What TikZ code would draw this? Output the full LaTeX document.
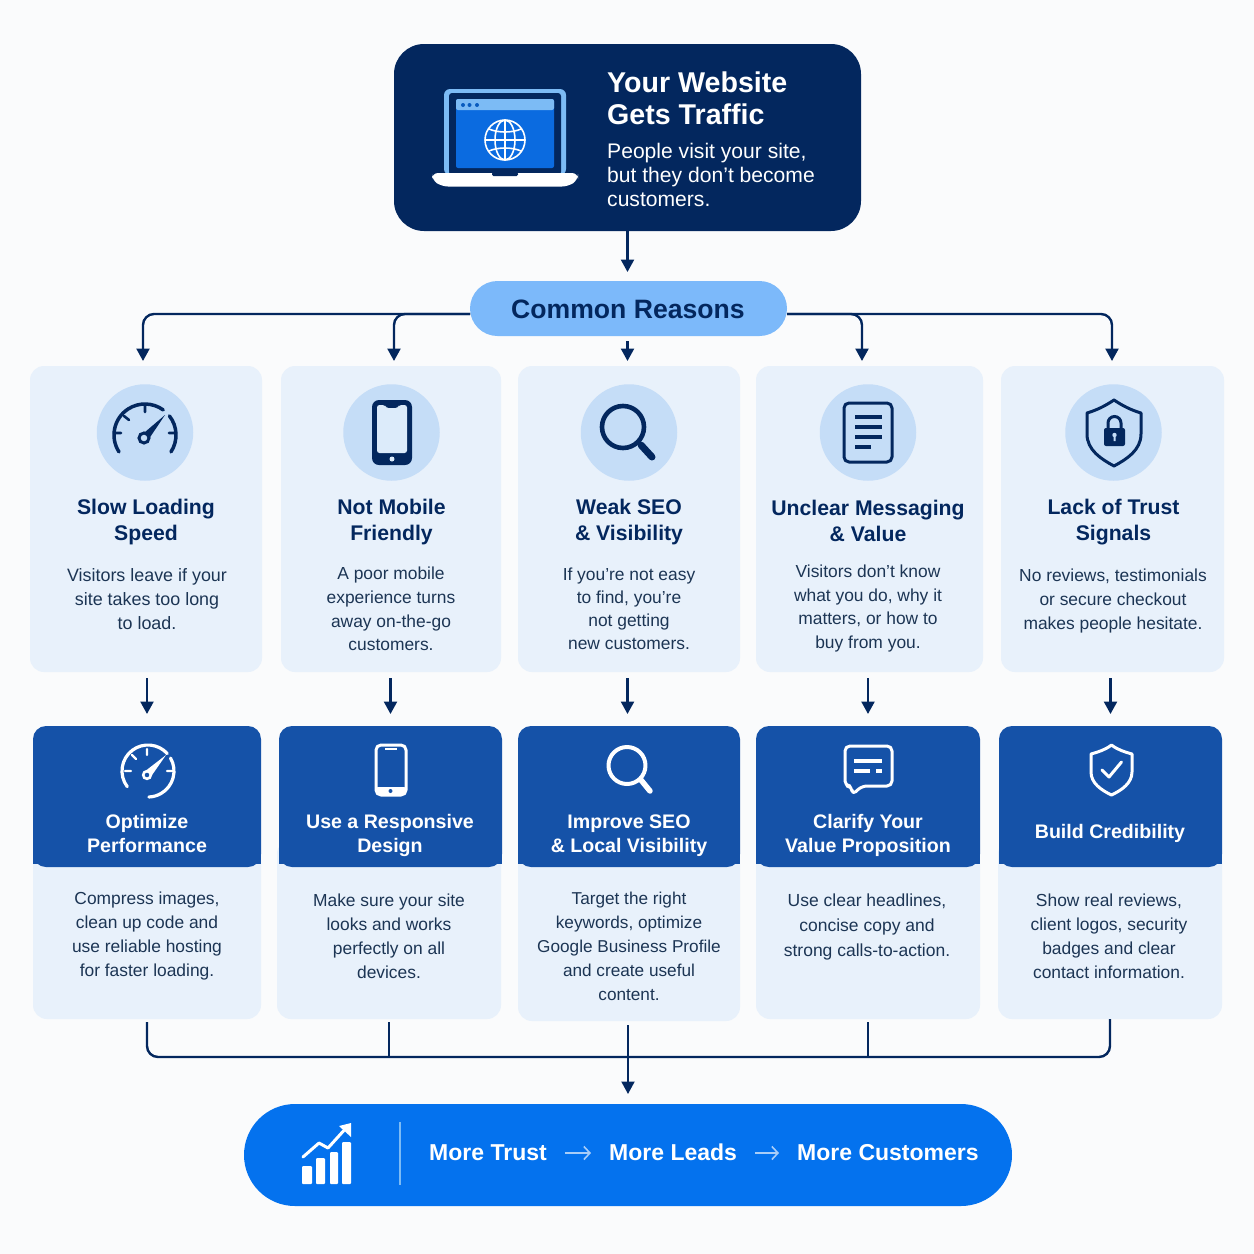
\documentclass[tikz,border=0pt]{standalone}
\usepackage{fontspec}
\setmainfont{Liberation Sans}
\usetikzlibrary{arrows.meta}
\definecolor{bgc}{HTML}{FAFBFC}
\definecolor{navy}{HTML}{03275E}
\definecolor{cardc}{HTML}{E8F1FB}
\definecolor{circc}{HTML}{C5DDF7}
\definecolor{darkc}{HTML}{1552A8}
\definecolor{pillc}{HTML}{7CB9FA}
\definecolor{outc}{HTML}{0472EE}
\definecolor{winc}{HTML}{0B6BE0}
\definecolor{framec}{HTML}{7CBBF5}
\definecolor{bodyc}{HTML}{1C3554}
\definecolor{softc}{HTML}{A8CDF8}
\newcommand\rbox[6]{%
  \pgfmathsetmacro\cxx{(#3+#5)/2}\pgfmathsetmacro\cyy{(#4+#6)/2}%
  \pgfmathsetmacro\ww{#5-#3}\pgfmathsetmacro\hh{#6-#4}%
  \node[#1,minimum width=\ww pt,minimum height=\hh pt] (#2) at (\cxx,\cyy) {};}
\newcommand\dbox[3]{%
  \fill[darkc] (#2,850) rectangle (#3,864);
  \rbox{darkbox}{#1}{#2}{726}{#3}{867}}
\tikzset{
  x=1pt,y=-1pt,
  shapebox/.style={shape=rectangle,inner sep=0pt,outer sep=0pt},
  upcard/.style={shapebox,fill=cardc,rounded corners=14pt},
  lowcard/.style={shapebox,fill=cardc,rounded corners=14pt},
  darkbox/.style={shapebox,fill=darkc,rounded corners=13pt},
  iconcirc/.style={shape=circle,fill=circc,inner sep=0pt,outer sep=0pt,minimum size=96.5pt},
  conn/.style={draw=navy,line width=2.4pt},
  arr/.style={conn,-{Triangle[width=13pt,length=12.5pt]}},
  ttl/.style={align=center,text=navy,inner sep=0pt,font=\fontsize{21.2}{26}\selectfont\bfseries},
  bodyt/.style={align=center,text=bodyc,inner sep=0pt,font=\fontsize{17.4}{23.6}\selectfont},
  lowt/.style={align=center,text=bodyc,inner sep=0pt,font=\fontsize{17.4}{24}\selectfont},
  wtl/.style={align=center,text=white,inner sep=0pt,font=\fontsize{19.6}{24}\selectfont\bfseries},
  outt/.style={anchor=west,text=white,inner sep=0pt,text height=16pt,text depth=1pt,font=\fontsize{23}{26}\selectfont\bfseries},
  nv/.style={draw=navy,line cap=round,line join=round},
  wh/.style={draw=white,line cap=round,line join=round},
}
\begin{document}
\begin{tikzpicture}
\useasboundingbox (0,0) rectangle (1254,1254);
\fill[bgc] (0,0) rectangle (1254,1254);

% boxes
\rbox{shapebox,fill=navy,rounded corners=30pt}{head}{394}{44}{861}{231}
\rbox{shapebox,fill=pillc,rounded corners=27.5pt}{pill}{470}{281}{787}{336}
\rbox{upcard}{c1}{30}{366}{262}{672}
\rbox{upcard}{c2}{281}{366}{501}{672}
\rbox{upcard}{c3}{518}{366}{740}{672}
\rbox{upcard}{c4}{756}{366}{983}{672}
\rbox{upcard}{c5}{1001}{366}{1224}{672}
\rbox{lowcard}{l1}{33}{840}{261}{1019}
\rbox{lowcard}{l2}{277}{840}{501}{1019}
\rbox{lowcard}{l3}{518}{840}{740}{1021}
\rbox{lowcard}{l4}{756}{840}{980}{1019}
\rbox{lowcard}{l5}{998}{840}{1222}{1019}
\dbox{d1}{33}{261}
\dbox{d2}{279}{502}
\dbox{d3}{518}{740}
\dbox{d4}{756}{980}
\dbox{d5}{999}{1222}
\rbox{shapebox,fill=outc,rounded corners=51pt}{out}{244}{1104}{1012}{1206}

% connectors
\coordinate (bus) at (628,1057);
\draw[arr,shorten >=9pt] (head.south) -- (head.south |- pill.north);
\draw[arr,rounded corners=11pt] ([yshift=-5.5pt]pill.west) -| ([xshift=-3pt,yshift=5pt]c1.north);
\draw[arr,rounded corners=11pt] ([yshift=-5.5pt]pill.west) -| ([xshift=3pt,yshift=5pt]c2.north);
\draw[arr,shorten <=5pt] (head.south |- pill.south) -- ([yshift=5pt]head.south |- c3.north);
\draw[arr,rounded corners=11pt] ([yshift=-5.5pt]pill.east) -| ([xshift=-7.5pt,yshift=5pt]c4.north);
\draw[arr,rounded corners=11pt] ([yshift=-5.5pt]pill.east) -| ([xshift=-0.5pt,yshift=5pt]c5.north);
\draw[arr,shorten <=6pt,shorten >=12pt] (d1.north |- c1.south) -- (d1.north);
\draw[arr,shorten <=6pt,shorten >=12pt] (d2.north |- c2.south) -- (d2.north);
\draw[arr,shorten <=6pt,shorten >=12pt] (head.south |- c3.south) -- (head.south |- d3.north);
\draw[arr,shorten <=6pt,shorten >=12pt] (d4.north |- c4.south) -- (d4.north);
\draw[arr,shorten <=6pt,shorten >=12pt] (d5.north |- c5.south) -- (d5.north);
\draw[conn,rounded corners=11pt,shorten <=3pt] (l1.south) -- (l1.south |- bus) -- (l5.south |- bus) -- (l5.south);
\draw[conn,line width=2pt,shorten <=3pt] (l2.south) -- (l2.south |- bus);
\draw[conn,line width=2pt,shorten <=3pt] (l4.south) -- (l4.south |- bus);
\draw[arr,line width=2pt,shorten <=4pt,shorten >=10pt] (out.north |- l3.south) -- (out.north);

% header
\node[anchor=west,align=left,text=white,inner sep=0pt,font=\fontsize{28.6}{32}\selectfont\bfseries] (ht) at (607,98) {Your Website\\Gets Traffic};
\node[anchor=west,align=left,text=white,inner sep=0pt,font=\fontsize{21.1}{24}\selectfont] (hb) at (607,175) {People visit your site,\\but they don’t become\\customers.};
% laptop
\fill[framec,rounded corners=6pt] (444,175) rectangle (566,89);
\fill[navy,rounded corners=3pt] (449,175) rectangle (561,93);
\fill[winc,rounded corners=2pt] (456,99) rectangle (554,168);
\fill[framec,rounded corners=2pt] (456,110) -- (456,99) -- (554,99) -- (554,110) -- cycle;
\fill[winc!85!black] (463,105) circle[radius=2pt] (469.5,105) circle[radius=2pt] (477,105) circle[radius=2pt];
\fill[white,rounded corners=6pt] (432,173) -- (578,173) -- (578,180) -- (568,186.5) -- (442,186.5) -- (432,180) -- cycle;
\fill[navy,rounded corners=1.5pt] (492,172) rectangle (518,176);
\draw[white,line width=1.6pt] (505,140) circle[radius=20pt] (505,120) -- (505,160);
\draw[white,line width=1.6pt] (505,140) ellipse[x radius=10pt,y radius=20pt];
\draw[white,line width=1.6pt] (489,129) .. controls (498,133) and (512,133) .. (521,129);
\draw[white,line width=1.6pt] (489,151) .. controls (498,147) and (512,147) .. (521,151);
\draw[white,line width=1.6pt] (485,140) -- (525,140);

\node[text=navy,inner sep=0pt,font=\fontsize{26.6}{30}\selectfont\bfseries] (pt) at (628,309) {Common Reasons};

% icon circles
\node[iconcirc] (i1) at (145,432.5) {};
\node[iconcirc] (i2) at (391.5,432.5) {};
\node[iconcirc] (i3) at (629,432.5) {};
\node[iconcirc] (i4) at (868,432.5) {};
\node[iconcirc] (i5) at (1113.5,432.5) {};

% gauge
\draw[nv,line width=3.5pt] ([shift={(213:31pt)}]145,435) arc[start angle=213,end angle=54,radius=31pt];
\draw[nv,line width=3.5pt] ([shift={(38:31pt)}]145,435) arc[start angle=38,end angle=-33,radius=31pt];
\draw[nv,line width=2.6pt] (145,405) -- (145,412) (114,433) -- (121,433) (169,433) -- (176,433) (124,416) -- (129,420);
\fill[navy] (141.5,435) -- (165,415) -- (147.5,441) -- cycle;
\draw[navy,fill=circc,line width=3pt] (144,438) circle[radius=5pt];
% phone
\fill[navy,rounded corners=7pt] (372,400) rectangle (412,465);
\fill[circc!60!white,rounded corners=2.5pt] (377,405) -- (385,405) -- (386,408) -- (398,408) -- (399,405) -- (407,405) -- (407,453) -- (377,453) -- cycle;
\fill[circc!60!white] (392,459) circle[radius=2.5pt];
% search
\draw[nv,line width=4.6pt] (623,427) circle[radius=21pt];
\draw[nv,line width=7pt] (641,445) -- (652,457);
% doc
\draw[nv,line width=3pt,rounded corners=5pt] (844,403) rectangle (892,462);
\draw[nv,line width=3.6pt,line cap=butt] (855,417) -- (882,417) (855,427) -- (882,427) (855,437) -- (882,437) (855,447) -- (871,447);
% shield lock
\draw[nv,line width=3pt] (1114,400) .. controls (1105,406) and (1097,410) .. (1087,413) -- (1087,434) .. controls (1087,450) and (1101,459) .. (1114,466) .. controls (1127,459) and (1141,450) .. (1141,434) -- (1141,413) .. controls (1131,410) and (1123,406) .. (1114,400) -- cycle;
\fill[navy,rounded corners=2pt] (1104,428) rectangle (1125,446);
\draw[navy,line width=3pt] (1108,430) -- (1108,423) arc[start angle=180,end angle=0,radius=6.5pt] -- (1121,430);
\fill[circc] (1114.5,435) circle[radius=2.2pt] (1113.5,435) rectangle (1115.5,441);

% upper titles
\node[ttl] (t1) at (146,522) {Slow Loading\\Speed};
\node[ttl] (t2) at (391.5,522.5) {Not Mobile\\Friendly};
\node[ttl] (t3) at (629,522) {Weak SEO\\\& Visibility};
\node[ttl] (t4) at (868,521) {Unclear Messaging\\\& Value};
\node[ttl] (t5) at (1113.5,522.5) {Lack of Trust\\Signals};
% upper bodies
\node[bodyt,font=\fontsize{17.9}{23.8}\selectfont] (b1) at (147,599) {Visitors leave if your\\site takes too long\\to load.};
\node[bodyt] (b2) at (391,609) {A poor mobile\\experience turns\\away on-the-go\\customers.};
\node[bodyt,font=\fontsize{17.4}{23}\selectfont] (b3) at (629,608.5) {If you’re not easy\\to find, you’re\\not getting\\new customers.};
\node[bodyt,font=\fontsize{17.4}{23.4}\selectfont] (b4) at (868,608.5) {Visitors don’t know\\what you do, why it\\matters, or how to\\buy from you.};
\node[bodyt,font=\fontsize{17.4}{24}\selectfont] (b5) at (1113,601) {No reviews, testimonials\\or secure checkout\\makes people hesitate.};

% dark titles
\node[wtl] (w1) at (147,833) {Optimize\\Performance};
\node[wtl] (w2) at (390,835) {Use a Responsive\\Design};
\node[wtl] (w3) at (629,836) {Improve SEO\\\& Local Visibility};
\node[wtl] (w4) at (868,835) {Clarify Your\\Value Proposition};
\node[wtl] (w5) at (1110,833) {Build Credibility};

% dark icons
\draw[wh,line width=3.2pt] ([shift={(217:26pt)}]148,771) arc[start angle=217,end angle=42,radius=26pt];
\draw[wh,line width=3.2pt] ([shift={(30:26pt)}]148,771) arc[start angle=30,end angle=-88,radius=26pt];
\draw[wh,line width=2.2pt] (147,749) -- (147,755) (125,771) -- (131,771) (167,771) -- (173,771) (132,755) -- (136,759);
\fill[white] (144,772) -- (166,755) -- (150,778) -- cycle;
\draw[white,fill=darkc,line width=2.6pt] (147,775) circle[radius=3.8pt];
\draw[wh,line width=3pt,rounded corners=5pt] (376,745) rectangle (406,795);
\fill[white,rounded corners=2pt] (376,787) rectangle (406,795);
\fill[darkc] (390.5,791) circle[radius=2pt];
\draw[white,line width=2pt] (385,749) -- (397,749);
\draw[wh,line width=4pt] (627,765.5) circle[radius=18.5pt];
\draw[wh,line width=5.5pt] (641,780) -- (650,791);
\draw[wh,line width=3pt,rounded corners=5pt] (845,746) -- (892,746) -- (892,786) -- (862,786) -- (852,795) -- (852,786) -- (845,786) -- cycle;
\draw[white,line width=3.2pt] (854,761) -- (882,761) (854,771) -- (870,771) (876,771) -- (882,771);
\draw[wh,line width=3pt] (1111.5,745) .. controls (1105,750) and (1098,752) .. (1091,754) -- (1091,772) .. controls (1091,783) and (1101,790) .. (1111.5,795) .. controls (1122,790) and (1132,783) .. (1132,772) -- (1132,754) .. controls (1125,752) and (1118,750) .. (1111.5,745) -- cycle;
\draw[wh,line width=3pt] (1102,770) -- (1109,777) -- (1121.5,762);

% lower bodies
\node[lowt] (p1) at (147,935.5) {Compress images,\\clean up code and\\use reliable hosting\\for faster loading.};
\node[lowt] (p2) at (389,936) {Make sure your site\\looks and works\\perfectly on all\\devices.};
\node[lowt,font=\fontsize{17.2}{24}\selectfont] (p3) at (629,946) {Target the right\\keywords, optimize\\Google Business Profile\\and create useful\\content.};
\node[lowt,font=\fontsize{17.5}{25.4}\selectfont] (p4) at (867,927) {Use clear headlines,\\concise copy and\\strong calls-to-action.};
\node[lowt] (p5) at (1109,936.5) {Show real reviews,\\client logos, security\\badges and clear\\contact information.};

% outcome band
\fill[white,rounded corners=1pt] (302,1166) rectangle (312,1184) (316,1158) rectangle (325,1184) (330,1152) rectangle (338,1184) (342,1142) rectangle (351,1184);
\draw[wh,line width=3pt] (303,1157) -- (319,1143) -- (328,1148) -- (347,1127);
\fill[white] (351,1123) -- (351,1137) -- (339,1126) -- cycle;
\draw[framec,line width=1.5pt] (400,1122) -- (400,1185);
\node[outt] (o1) at (429,1153) {More Trust};
\node[outt] (o2) at (609,1153) {More Leads};
\node[outt] (o3) at (797,1153) {More Customers};
\draw[softc,line width=1.6pt,-{Straight Barb[length=6pt,width=13pt]},shorten <=18pt,shorten >=18pt] (o1) -- (o2);
\draw[softc,line width=1.6pt,-{Straight Barb[length=6pt,width=13pt]},shorten <=18pt,shorten >=18pt] (o2) -- (o3);
\end{tikzpicture}
\end{document}
